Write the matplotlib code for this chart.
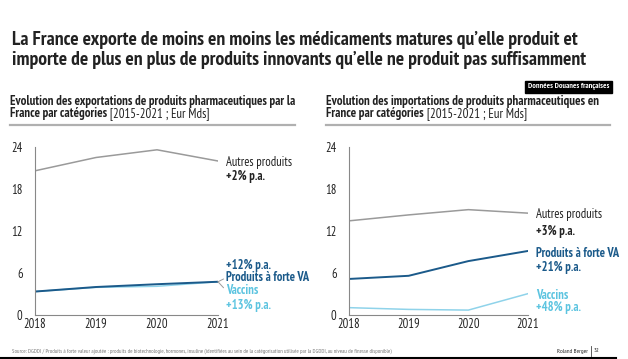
import matplotlib
matplotlib.use("Agg")
import matplotlib.pyplot as plt
from matplotlib import font_manager


def weight_num(w):
    if isinstance(w, int):
        return w
    return font_manager.weight_dict.get(w, 400)


bold_fonts = {f.name for f in font_manager.fontManager.ttflist if weight_num(f.weight) >= 600}
regular_fonts = {f.name for f in font_manager.fontManager.ttflist if weight_num(f.weight) < 600}
candidates = ['Liberation Sans Narrow', 'Archivo Narrow', 'PT Sans Narrow', 'Roboto Condensed',
              'Pragati Narrow', 'Open Sans Condensed', 'Encode Sans Condensed', 'Fira Sans Condensed',
              'IBM Plex Sans Condensed', 'Asap Condensed', 'Barlow Semi Condensed', 'Liberation Sans']
narrow = next(c for c in candidates if c in bold_fonts and c in regular_fonts)
plt.rcParams['font.family'] = [narrow, 'DejaVu Sans']

years = [2018, 2019, 2020, 2021]
exp_autres = [20.6, 22.5, 23.6, 22.0]
exp_forte_va = [3.35, 4.0, 4.4, 4.75]
exp_vaccins = [3.35, 3.95, 4.1, 4.75]
imp_autres = [13.45, 14.3, 15.05, 14.55]
imp_forte_va = [5.15, 5.6, 7.7, 9.15]
imp_vaccins = [1.05, 0.8, 0.7, 3.05]
yticks = [0, 6, 12, 18, 24]

GREY = "#9a9a9a"
DARK = "#1b5a8a"
LIGHT = "#8fd3ea"
LIGHT_TXT = "#5cc4e0"
TXT = "#222222"

W, H = 628, 359
fig = plt.figure(figsize=(W/100, H/100), dpi=100)
renderer = fig.canvas.get_renderer()


def px(x, y):
    return x / W, 1 - y / H


def fit_width(t, target_px):
    # shrink/grow a text so its width matches the reference
    w = t.get_window_extent(renderer).width
    t.set_fontsize(t.get_fontsize() * target_px / w)


title = fig.text(*px(12, 31), "La France exporte de moins en moins les médicaments matures qu\u2019elle produit et\n"
                 "importe de plus en plus de produits innovants qu\u2019elle ne produit pas suffisamment",
                 fontsize=13.5, fontweight='bold', color=TXT, va='top', ha='left', linespacing=1.15)
fit_width(title, 578)

badge = fig.text(*px(609, 87), "Données Douanes françaises", fontsize=4.5, fontweight='bold', color='white',
                 ha='right', va='center', bbox=dict(boxstyle='square,pad=0.35', fc='black', ec='black'))
fit_width(badge, 80)

subtitles = [
    ("Evolution des exportations de produits pharmaceutiques par la", 10, 295, 284),
    ("Evolution des importations de produits pharmaceutiques en", 326, 610, 272),
]
for line1, x0, x1, wpx in subtitles:
    t1 = fig.text(*px(x0, 102), line1, fontsize=8, fontweight='bold', color=TXT, va='center', ha='left')
    fit_width(t1, wpx)
    fs = t1.get_fontsize()
    t2 = fig.text(*px(x0, 114), "France par catégories", fontsize=fs, fontweight='bold', color=TXT,
                  va='center', ha='left')
    w2 = t2.get_window_extent(renderer).width
    fig.text((x0 + w2) / W, 1 - 114 / H, " [2015-2021 ; Eur Mds]", fontsize=fs, color=TXT,
             va='center', ha='left')
    fig.add_artist(plt.Line2D([x0 / W, x1 / W], [1 - 125 / H, 1 - 125 / H], color="#b0b0b0", lw=1.6))

ax1 = fig.add_axes([35 / W, 1 - 315 / H, 183 / W, 168 / H])
ax2 = fig.add_axes([349 / W, 1 - 315 / H, 179 / W, 168 / H])

for ax, a, f, v in [(ax1, exp_autres, exp_forte_va, exp_vaccins), (ax2, imp_autres, imp_forte_va, imp_vaccins)]:
    ax.plot(years, a, color=GREY, lw=1.1)
    ax.plot(years, v, color=LIGHT, lw=1.1)
    ax.plot(years, f, color=DARK, lw=1.4)
    ax.set_xlim(2018, 2021)
    ax.set_ylim(0, 24)
    ax.set_yticks(yticks)
    ax.set_xticks(years)
    ax.tick_params(length=0, labelsize=9, colors=TXT, pad=2)
    ax.tick_params(axis='y', pad=9)
    for s in ['top', 'right']:
        ax.spines[s].set_visible(False)
    for s in ['left', 'bottom']:
        ax.spines[s].set_color("#888888")
        ax.spines[s].set_linewidth(0.8)
    ax.patch.set_alpha(0)

lab = dict(textcoords='offset points', fontsize=9, va='center', ha='left', annotation_clip=False)
bracket = dict(arrowstyle='-', color=GREY, lw=0.7, shrinkA=0, shrinkB=0, relpos=(0, 0.5))

# left chart labels
ax1.annotate("Autres produits", xy=(2021, exp_autres[-1]), xytext=(6, -1), color=TXT, **lab)
ax1.annotate("+2% p.a.", xy=(2021, exp_autres[-1]), xytext=(6, -11), color=TXT, fontweight='bold', **lab)
ax1.annotate("+12% p.a.", xy=(2021, exp_forte_va[-1]), xytext=(6, 11.5), color=DARK, fontweight='bold', **lab)
ax1.annotate("Produits à forte VA", xy=(2021, exp_forte_va[-1]), xytext=(6, 3), color=DARK, fontweight='bold',
             arrowprops=bracket, **lab)
ax1.annotate("Vaccins", xy=(2021, exp_vaccins[-1]), xytext=(6, -6.5), color=LIGHT_TXT, fontweight='bold',
             arrowprops=bracket, **lab)
ax1.annotate("+13% p.a.", xy=(2021, exp_vaccins[-1]), xytext=(6, -17), color=LIGHT_TXT, fontweight='bold', **lab)

# right chart labels
ax2.annotate("Autres produits", xy=(2021, imp_autres[-1]), xytext=(6, -1), color=TXT, **lab)
ax2.annotate("+3% p.a.", xy=(2021, imp_autres[-1]), xytext=(6, -13.5), color=TXT, fontweight='bold', **lab)
ax2.annotate("Produits à forte VA", xy=(2021, imp_forte_va[-1]), xytext=(6, -1.5), color=DARK, fontweight='bold', **lab)
ax2.annotate("+21% p.a.", xy=(2021, imp_forte_va[-1]), xytext=(6, -12), color=DARK, fontweight='bold', **lab)
ax2.annotate("Vaccins", xy=(2021, imp_vaccins[-1]), xytext=(6, -1.5), color=LIGHT_TXT, fontweight='bold', **lab)
ax2.annotate("+48% p.a.", xy=(2021, imp_vaccins[-1]), xytext=(6, -10), color=LIGHT_TXT, fontweight='bold', **lab)

src = fig.text(*px(12, 351), "Source: DGDDI / Produits à forte valeur ajoutée : produits de biotechnologie, hormones, "
               "insuline (identifiées au sein de la catégorisation utilisée par la DGDDI, au niveau de finesse disponible)",
               fontsize=3.8, color="#777777", va='center', ha='left')
fit_width(src, 378)
fig.text(*px(588, 351), "Roland Berger", fontsize=4.5, color=TXT, va='center', ha='right')
fig.add_artist(plt.Line2D([591 / W, 591 / W], [1 - 346 / H, 1 - 356 / H], color="#444444", lw=0.6))
fig.text(*px(594, 351), "32", fontsize=4.5, color=TXT, va='center', ha='left')
fig.add_artist(plt.Line2D([0, 616 / W], [1 - 357.5 / H, 1 - 357.5 / H], color="black", lw=1.5))

fig.savefig("out.png", dpi=100)
